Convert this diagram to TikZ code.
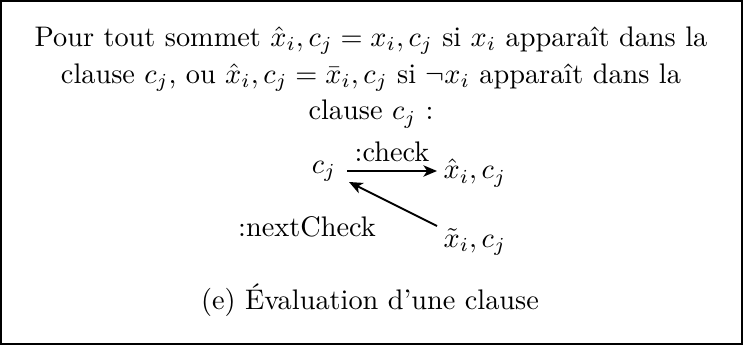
\documentclass[tikz,border=0pt]{standalone}
\usepackage{amsmath,amssymb}
\usetikzlibrary{arrows.meta}
\begin{document}
\begin{tikzpicture}[x=0.3533pt,y=-0.3533pt,
  lbl/.style={inner sep=0pt,font=\fontsize{10}{12}\selectfont},
  arr/.style={-{Stealth[length=4.8pt,width=4pt,inset=1.3pt]},line width=0.7pt}]
\useasboundingbox (0,0) rectangle (743,345);
\draw[line width=0.5pt] (1,1) rectangle (742,344);
\node[lbl,align=center,anchor=north] (intro) at (371,26) {Pour tout sommet $\hat{x}_i,c_j=x_i,c_j$ si $x_i$ apparaît dans la\\[1pt] clause $c_j$, ou $\hat{x}_i,c_j=\bar{x}_i,c_j$ si $\neg x_i$ apparaît dans la\\[1pt] clause $c_j$ :};
\node[lbl] (c) at (324,171) {$c_j$};
\node[lbl,anchor=west] (xh) at (443,173) {$\hat{x}_i,c_j$};
\node[lbl,anchor=west] (xt) at (443,242) {$\tilde{x}_i,c_j$};
\coordinate (a1) at (347,171);
\coordinate (a2) at (437,171);
\coordinate (b1) at (437,226);
\coordinate (b2) at (349,182);
\draw[arr] (a1) -- node[lbl,above=3pt] (chk) {:check} (a2);
\draw[arr] (b1) -- (b2);
\node[lbl] (nc) at (307,227) {:nextCheck};
\node[lbl] (cap) at (370,300) {(e) Évaluation d'une clause};
\end{tikzpicture}
\end{document}
